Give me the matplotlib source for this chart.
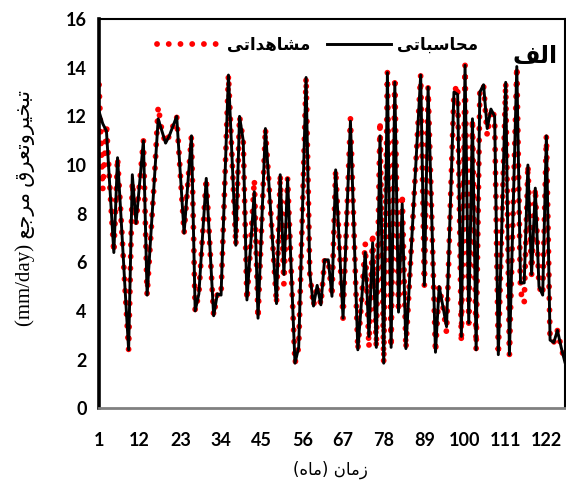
import numpy as np
import matplotlib
matplotlib.use("Agg")
import matplotlib.pyplot as plt

# monthly reference ET, computed vs observed (mm/day)
months = list(range(1, 128))
computed = [12.2, 11.7, 11.4, 8.9, 6.4, 10.3, 7.7, 5.0, 2.4, 9.6,
            7.6, 9.3, 11.0, 4.65, 7.1, 9.5, 11.9, 11.4, 10.9, 11.2,
            11.6, 12.0, 9.6, 7.2, 9.2, 11.2, 4.0, 4.7, 7.1, 9.45,
            6.6, 3.8, 4.7, 4.65, 9.2, 13.7, 10.2, 6.7, 12.0, 11.0,
            4.45, 6.7, 8.9, 3.7, 7.6, 11.5, 9.1, 6.7, 4.3, 9.6,
            5.5, 9.45, 5.6, 1.85, 2.5, 8.0, 13.6, 5.55, 4.2, 5.05,
            4.25, 6.1, 6.1, 4.6, 9.8, 6.7, 3.7, 7.8, 11.8, 7.1,
            2.4, 4.4, 6.4, 2.95, 6.8, 2.5, 11.2, 1.85, 13.8, 2.5,
            13.4, 3.95, 8.4, 2.45, 5.3, 8.1, 10.9, 13.7, 5.05, 13.2,
            7.8, 2.3, 5.0, 4.2, 3.35, 8.2, 13.0, 12.9, 2.95, 14.1,
            3.5, 11.9, 2.4, 13.0, 13.3, 11.5, 12.3, 12.0, 2.2, 7.8,
            13.4, 2.2, 8.1, 14.05, 5.15, 5.15, 10.0, 5.5, 9.05, 5.0,
            4.65, 11.2, 2.8, 2.7, 3.2, 2.5, 1.9]
observed = [13.3, 9.0, 11.7, 8.9, 6.4, 10.3, 7.7, 5.0, 2.4, 9.3,
            7.6, 9.3, 11.0, 4.65, 7.1, 9.5, 12.4, 11.4, 10.9, 11.2,
            11.6, 12.0, 9.6, 7.2, 9.2, 11.2, 4.0, 4.7, 7.1, 9.45,
            6.6, 3.8, 4.7, 4.65, 9.2, 13.7, 10.2, 6.7, 12.0, 11.0,
            4.45, 6.7, 9.4, 3.7, 7.6, 11.5, 9.1, 6.7, 4.3, 9.6,
            5.1, 9.45, 5.6, 1.85, 2.5, 8.0, 13.6, 5.55, 4.2, 5.05,
            4.25, 6.1, 6.1, 4.6, 9.8, 6.7, 3.7, 7.8, 11.9, 7.1,
            2.4, 4.4, 6.8, 2.5, 7.2, 2.5, 11.8, 1.85, 13.8, 2.5,
            13.6, 3.95, 8.8, 2.45, 5.3, 8.1, 10.9, 13.7, 5.05, 13.2,
            7.8, 2.3, 5.0, 4.2, 3.1, 8.2, 13.0, 13.3, 2.7, 14.1,
            3.5, 11.9, 2.4, 13.0, 13.3, 11.2, 12.3, 12.0, 2.2, 7.8,
            13.4, 2.2, 8.1, 14.05, 4.8, 4.3, 10.0, 5.5, 9.05, 5.0,
            4.65, 11.2, 2.8, 2.7, 3.2, 2.5, 1.9]
x_ticks = [1, 12, 23, 34, 45, 56, 67, 78, 89, 100, 111, 122]
y_ticks = [0, 2, 4, 6, 8, 10, 12, 14, 16]

# matplotlib does no arabic shaping, so pick presentation forms by hand
# (isolated, final, initial, medial)
FORMS = {
    'ا': ('\uFE8D', '\uFE8E', None, None),
    'ب': ('\uFE8F', '\uFE90', '\uFE91', '\uFE92'),
    'ت': ('\uFE95', '\uFE96', '\uFE97', '\uFE98'),
    'ج': ('\uFE9D', '\uFE9E', '\uFE9F', '\uFEA0'),
    'ح': ('\uFEA1', '\uFEA2', '\uFEA3', '\uFEA4'),
    'خ': ('\uFEA5', '\uFEA6', '\uFEA7', '\uFEA8'),
    'د': ('\uFEA9', '\uFEAA', None, None),
    'ر': ('\uFEAD', '\uFEAE', None, None),
    'ز': ('\uFEAF', '\uFEB0', None, None),
    'س': ('\uFEB1', '\uFEB2', '\uFEB3', '\uFEB4'),
    'ش': ('\uFEB5', '\uFEB6', '\uFEB7', '\uFEB8'),
    'ع': ('\uFEC9', '\uFECA', '\uFECB', '\uFECC'),
    'ف': ('\uFED1', '\uFED2', '\uFED3', '\uFED4'),
    'ق': ('\uFED5', '\uFED6', '\uFED7', '\uFED8'),
    'ل': ('\uFEDD', '\uFEDE', '\uFEDF', '\uFEE0'),
    'م': ('\uFEE1', '\uFEE2', '\uFEE3', '\uFEE4'),
    'ن': ('\uFEE5', '\uFEE6', '\uFEE7', '\uFEE8'),
    'ه': ('\uFEE9', '\uFEEA', '\uFEEB', '\uFEEC'),
    'و': ('\uFEED', '\uFEEE', None, None),
    'ی': ('\uFBFC', '\uFBFD', '\uFBFE', '\uFBFF'),
}


def rtl(text):
    out = []
    for i, ch in enumerate(text):
        f = FORMS.get(ch)
        if f is None:
            out.append(ch)
            continue
        prev = text[i - 1] if i > 0 else ''
        nxt = text[i + 1] if i < len(text) - 1 else ''
        jp = prev in FORMS and FORMS[prev][2] is not None
        jn = nxt in FORMS and f[2] is not None
        if jp and jn:
            out.append(f[3])
        elif jp:
            out.append(f[1])
        elif jn:
            out.append(f[2])
        else:
            out.append(f[0])
    s = ''.join(reversed(out))
    return s.replace('(', '\0').replace(')', '(').replace('\0', ')')


fig = plt.figure(figsize=(5.66, 4.90), dpi=100)
ax = fig.add_axes([0.175, 0.167, 0.823, 0.794])

ax.plot(months, observed, color='red', lw=4.2, linestyle=(0, (0.01, 2.0)),
        dash_capstyle='round', label=rtl('مشاهداتی'), zorder=2)
ax.plot(months, computed, color='black', lw=2.1, label=rtl('محاسباتی'),
        zorder=3)

ax.set_xlim(1, 127)
ax.set_ylim(0, 16)
ax.set_xticks(x_ticks)
ax.set_yticks(y_ticks)
ax.tick_params(length=0)
ax.tick_params(axis='x', pad=17)
ax.tick_params(axis='y', pad=9)
for lab in ax.get_xticklabels() + ax.get_yticklabels():
    lab.set_fontfamily('Lato')
    lab.set_fontweight('bold')
    lab.set_fontsize(13)

ax.spines['left'].set_linewidth(2.6)
ax.spines['top'].set_linewidth(1.5)
ax.spines['right'].set_linewidth(1.5)
ax.spines['bottom'].set_color('#808080')
ax.spines['bottom'].set_linewidth(2)

leg = ax.legend(loc='center', bbox_to_anchor=(0.47, 0.935), ncol=2,
                frameon=False, handlelength=3.8, columnspacing=1.0,
                handletextpad=0.4,
                prop={'family': 'DejaVu Sans', 'weight': 'bold', 'size': 12})

ax.text(0.936, 0.905, rtl('الف'), transform=ax.transAxes, ha='center',
        va='center', fontsize=17, fontweight='bold', family='DejaVu Sans')

fig.text(25 / 566, 1 - 208 / 490,
         '(mm/day) ' + rtl('تبخیروتعرق مرجع'), rotation=90,
         ha='center', va='center', fontsize=15,
         family=['Liberation Serif', 'DejaVu Sans'])
fig.text(330 / 566, 1 - 470 / 490, rtl('زمان (ماه)'), ha='center',
         va='center', fontsize=12, family='DejaVu Sans')

fig.savefig('out.png', dpi=100)
